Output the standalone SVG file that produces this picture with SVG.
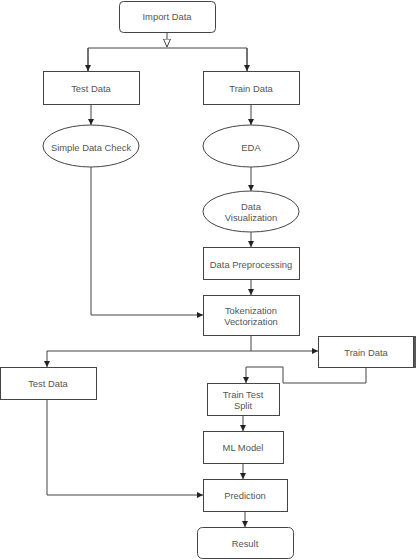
<svg xmlns="http://www.w3.org/2000/svg" width="418" height="560" viewBox="0 0 418 560">
<defs>
<style>
.n{fill:#fff;stroke:#444;stroke-width:1}
.t{font-family:"Liberation Sans",Arial,sans-serif;font-size:9.4px;fill:#555;text-anchor:middle;dominant-baseline:central}
.c{fill:none;stroke:#444;stroke-width:1}
</style>
<marker id="a" viewBox="0 0 6 6" refX="6" refY="3" markerWidth="6" markerHeight="6" orient="auto" markerUnits="userSpaceOnUse"><path d="M0,0L6,3L0,6z" fill="#222"/></marker>
<marker id="o" viewBox="0 0 8 8" refX="8" refY="4" markerWidth="8" markerHeight="8" orient="auto" markerUnits="userSpaceOnUse"><path d="M0,0.5L8,4L0,7.5z" fill="#fff" stroke="#444" stroke-width="1"/></marker>
</defs>
<rect width="418" height="560" fill="#fff"/>
<g id="connectors">
<path class="c" d="M167,32V47" marker-end="url(#o)"/>
<path class="c" d="M88,71V48H247V71" />
<path class="c" d="M88,48V71" marker-end="url(#a)"/>
<path class="c" d="M247,48V71" marker-end="url(#a)"/>
<path class="c" d="M91,104V125" marker-end="url(#a)"/>
<path class="c" d="M251,104V125" marker-end="url(#a)"/>
<path class="c" d="M251,167V191" marker-end="url(#a)"/>
<path class="c" d="M251,232V247" marker-end="url(#a)"/>
<path class="c" d="M251,279V295" marker-end="url(#a)"/>
<path class="c" d="M91,167V315H203" marker-end="url(#a)"/>
<path class="c" d="M251,335V351H47V367" marker-end="url(#a)"/>
<path class="c" d="M251,351H318" marker-end="url(#a)"/>
<path class="c" d="M366,367V383H283V367H246V383" marker-end="url(#a)"/>
<path class="c" d="M243,415V431" marker-end="url(#a)"/>
<path class="c" d="M243,463V479" marker-end="url(#a)"/>
<path class="c" d="M47,400V495H203" marker-end="url(#a)"/>
<path class="c" d="M245,511V527" marker-end="url(#a)"/>
<path d="M415,336V368" stroke="#222" stroke-width="1.5"/>
</g>
<g id="import-data"><rect class="n" x="119.5" y="1.5" width="96" height="31" rx="4"/><text class="t" x="167" y="16">Import Data</text></g>
<g id="test-data-1"><rect class="n" x="43.5" y="71.5" width="96" height="33"/><text class="t" x="91" y="88">Test Data</text></g>
<g id="train-data-1"><rect class="n" x="203.5" y="71.5" width="96" height="33"/><text class="t" x="251" y="88">Train Data</text></g>
<g id="simple-data-check"><ellipse class="n" cx="91" cy="146" rx="48" ry="21"/><text class="t" x="91" y="147">Simple Data Check</text></g>
<g id="eda"><ellipse class="n" cx="251" cy="146" rx="48" ry="21"/><text class="t" x="251" y="147">EDA</text></g>
<g id="data-visualization"><ellipse class="n" cx="251" cy="211.5" rx="48" ry="20.5"/><text class="t" x="251" y="206">Data</text><text class="t" x="251" y="217">Visualization</text></g>
<g id="data-preprocessing"><rect class="n" x="203.5" y="247.5" width="96" height="32"/><text class="t" x="251" y="264">Data Preprocessing</text></g>
<g id="tokenization"><rect class="n" x="203.5" y="295.5" width="96" height="40"/><text class="t" x="251" y="310">Tokenization</text><text class="t" x="251" y="321">Vectorization</text></g>
<g id="train-data-2"><rect class="n" x="318.5" y="336.5" width="95" height="31"/><text class="t" x="366" y="352">Train Data</text></g>
<g id="test-data-2"><rect class="n" x="0.5" y="367.5" width="96" height="32"/><text class="t" x="48" y="383">Test Data</text></g>
<g id="train-test-split"><rect class="n" x="207.5" y="383.5" width="72" height="32"/><text class="t" x="243" y="394">Train Test</text><text class="t" x="243" y="405">Split</text></g>
<g id="ml-model"><rect class="n" x="203.5" y="431.5" width="80" height="32"/><text class="t" x="243" y="447">ML Model</text></g>
<g id="prediction"><rect class="n" x="203.5" y="479.5" width="84" height="32"/><text class="t" x="245" y="495">Prediction</text></g>
<g id="result"><rect class="n" x="197.5" y="527.5" width="96" height="31" rx="5"/><text class="t" x="245" y="543">Result</text></g>
</svg>
